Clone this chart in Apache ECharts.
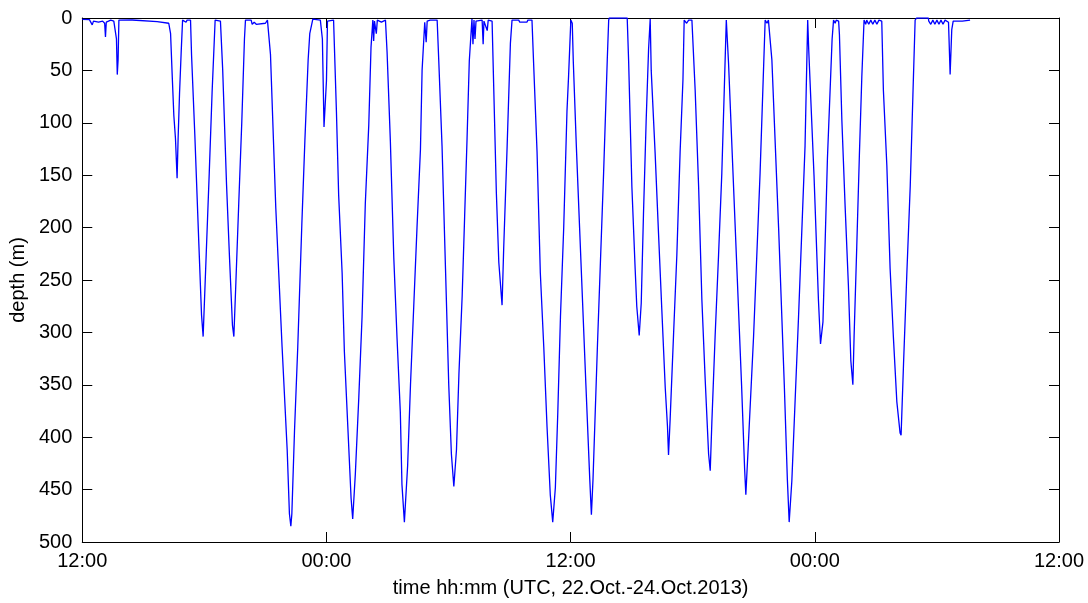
<!DOCTYPE html>
<html>
<head>
<meta charset="utf-8">
<script src="https://cdn.jsdelivr.net/npm/echarts@6/dist/echarts.min.js"></script>
<style>
html,body{margin:0;padding:0;background:#fff;}
#chart{width:1088px;height:603px;}
</style>
</head>
<body>
<div id="chart"></div>
<script>
// time in hours since 12:00 UTC, 22 Oct 2013
const timeHours = [
0.00,0.35,0.49,0.55,0.80,1.00,1.10,1.14,1.18,1.40,1.55,1.68,1.72,1.76,1.80,2.45,2.46,3.68,3.69,4.25,
4.34,4.42,4.50,4.58,4.66,4.71,4.78,4.86,4.93,5.10,5.15,5.32,
5.37,5.53,5.73,5.86,5.94,6.01,6.09,6.24,6.38,6.53,6.79,
6.90,7.09,7.23,7.38,7.45,7.55,7.69,7.84,7.97,8.02,8.30,8.35,8.45,8.55,8.60,9.00,9.10,9.17,
9.25,9.51,9.82,10.07,10.18,10.25,10.30,10.43,10.59,10.79,10.94,11.10,11.18,11.33,11.70,
11.80,11.88,11.95,12.00,12.05,12.35,
12.49,12.60,12.77,12.88,13.05,13.21,13.29,13.42,13.59,13.75,13.91,14.08,14.19,14.28,14.32,14.36,14.45,14.50,14.70,14.90,
14.98,15.14,15.31,15.47,15.63,15.71,15.83,15.88,15.99,16.13,16.29,16.45,16.62,16.70,16.83,16.90,16.95,17.10,17.44,
17.52,17.68,17.85,18.01,18.14,18.26,18.39,18.51,18.67,18.79,18.91,19.02,19.15,19.20,19.25,19.30,19.35,19.65,19.70,19.74,19.90,19.95,20.14,
20.22,20.35,20.47,20.63,20.71,20.88,21.04,21.12,21.45,21.50,21.85,21.90,22.10,
22.18,22.35,22.51,22.68,22.84,23.00,23.12,23.25,23.37,23.50,23.66,23.82,23.90,24.01,
24.08,24.13,24.28,24.44,24.75,24.94,25.02,25.10,25.32,25.62,25.80,25.87,25.90,26.78,
26.85,27.01,27.17,27.25,27.37,27.47,27.58,27.71,27.83,27.91,
27.96,28.15,28.32,28.48,28.65,28.76,28.81,28.89,29.06,29.22,29.38,29.52,29.58,29.70,29.80,29.96,
30.12,30.29,30.45,30.61,30.78,30.86,30.94,31.10,31.27,31.43,31.55,31.65,
31.68,31.76,32.17,32.40,32.55,32.61,32.70,32.99,33.31,33.56,33.65,33.72,33.81,
33.89,34.22,34.50,34.65,34.74,34.87,35.20,35.52,35.65,
35.70,35.96,36.18,36.28,36.40,36.62,36.85,36.92,37.00,37.05,37.17,
37.21,37.33,37.49,37.65,37.77,37.87,37.93,38.06,38.19,38.31,38.42,38.50,38.55,38.65,38.75,38.85,38.95,39.05,39.15,39.29,
39.37,39.54,39.70,39.86,40.03,40.19,40.24,40.36,40.52,40.69,40.82,40.93,41.00,41.58,41.60,41.70,41.80,41.90,42.00,42.10,42.20,42.30,42.40,42.57,42.65,42.70,42.73,42.80,43.25,43.27,43.63
];
// depth in metres
const depthM = [
1.3,1.5,6.6,3,4,3,5,18,4,2,3,20,54,40,2,1.9,3.5,3.5,5,5,
15,55,93,115,153,115,72,33,2,4,2,2,
35,111,216,283,304,304,226,148,71,2,3,
49,159,226,293,304,252,177,99,20,2,2,6,4,6,5,5,2,3,
35,181,314,412,473,485,473,394,314,197,117,40,15,1,2,
20,104,104,60,3,2,
89,169,243,318,390,458,478,435,362,285,177,102,28,2,22,3,15,2,4,2,
33,117,229,306,376,445,481,481,427,350,275,200,125,50,4,23,3,2,2,
41,122,239,350,416,447,412,340,265,190,115,41,1,25,2,20,3,2,25,3,12,2,3,
66,167,233,274,220,122,24,2,2,4,4,2,2,
43,128,243,314,390,455,481,448,376,285,200,89,55,2,
5,41,122,200,350,440,474,440,311,148,40,2,0,0,
41,161,239,275,303,272,187,99,30,1,
50,128,206,278,353,390,417,383,301,226,128,59,2,5,2,2,
69,161,269,344,416,432,386,304,226,148,69,2,
2,43,239,350,430,455,420,304,148,2,5,2,2,
40,200,350,440,481,442,285,122,2,
30,150,270,311,290,134,20,2,5,2,3,
16,98,180,255,327,350,304,219,131,56,2,6,2,6,2,6,2,6,2,3,
69,141,239,304,366,396,398,330,245,160,74,2,0,0,3,6,2,6,2,6,2,6,2,4,54,54,11,3,3,2,2
];
const xTickLabels = ['12:00','00:00','12:00','00:00','12:00'];
const yTicks = [0,50,100,150,200,250,300,350,400,450,500];
const xTitle = 'time hh:mm (UTC, 22.Oct.-24.Oct.2013)';
const yTitle = 'depth (m)';

const seriesData = timeHours.map((t, i) => [t, depthM[i]]);

const chart = echarts.init(document.getElementById('chart'), null, {renderer: 'canvas'});
const font = 'Liberation Sans, Arial, Helvetica, sans-serif';
const axisLine = {show: true, onZero: false, lineStyle: {color: '#000', width: 1}};
const tick = {show: true, inside: true, length: 10, lineStyle: {color: '#000', width: 1}};
chart.setOption({
  animation: false,
  backgroundColor: '#fff',
  grid: {left: 82, right: 29, top: 18, bottom: 56, containLabel: false},
  xAxis: [{
    type: 'value', min: 0, max: 48, interval: 12, position: 'bottom',
    axisLine: axisLine, axisTick: tick, splitLine: {show: false},
    axisLabel: {show: true, color: '#000', fontFamily: font, fontSize: 20, margin: 9,
      showMinLabel: true, showMaxLabel: true,
      formatter: v => xTickLabels[Math.round(v / 12)]},
    name: xTitle, nameLocation: 'middle', nameGap: 36,
    nameTextStyle: {color: '#000', fontFamily: font, fontSize: 20}
  }, {
    type: 'value', min: 0, max: 48, interval: 12, position: 'top',
    axisLine: axisLine, axisTick: tick, axisLabel: {show: false}, splitLine: {show: false}
  }],
  yAxis: [{
    type: 'value', inverse: true, min: 0, max: 500, interval: 50, position: 'left',
    axisLine: axisLine, axisTick: tick, splitLine: {show: false},
    axisLabel: {show: true, color: '#000', fontFamily: font, fontSize: 20, margin: 10,
      showMinLabel: true, showMaxLabel: true,
      formatter: v => String(yTicks[Math.round(v / 50)])},
    name: yTitle, nameLocation: 'middle', nameGap: 53, nameRotate: 90,
    nameTextStyle: {color: '#000', fontFamily: font, fontSize: 20}
  }, {
    type: 'value', inverse: true, min: 0, max: 500, interval: 50, position: 'right',
    axisLine: axisLine, axisTick: tick, axisLabel: {show: false}, splitLine: {show: false}
  }],
  series: [{
    type: 'line', data: seriesData, xAxisIndex: 0, yAxisIndex: 0,
    showSymbol: false, symbol: 'none', smooth: false,
    lineStyle: {color: '#0000ff', width: 1.3},
    clip: true
  }]
});
</script>
</body>
</html>
